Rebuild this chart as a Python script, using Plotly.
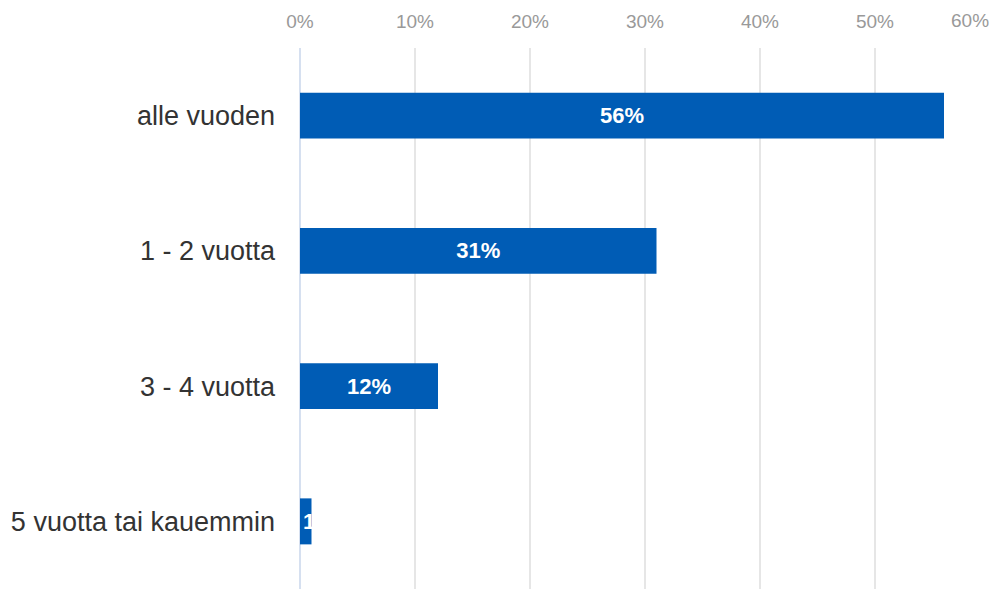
import plotly.graph_objects as go

# Survey answer categories (top to bottom) and share of respondents
categories = ["alle vuoden", "1 - 2 vuotta", "3 - 4 vuotta", "5 vuotta tai kauemmin"]
shares = [56, 31, 12, 1]
x_ticks = [0, 10, 20, 30, 40, 50, 60]
x_tick_labels = ["0%", "10%", "20%", "30%", "40%", "50%", "60%"]

bar_color = "#005cb5"
font_family = "Liberation Sans, Arial, sans-serif"
tick_color = "#999999"
tick_size = 19
label_font = dict(family=font_family, size=22, color="white", weight="bold")

# the last tick sits on the right edge, so its label is drawn separately, right-aligned
axis_ticktext = x_tick_labels[:-1] + [""]

# wide bars get a centred label; very short bars get theirs anchored at the bar base
wide = [v >= 5 for v in shares]

fig = go.Figure()
for is_wide in (True, False):
    idx = [i for i, w in enumerate(wide) if w == is_wide]
    if not idx:
        continue
    fig.add_trace(
        go.Bar(
            x=[shares[i] for i in idx],
            y=[categories[i] for i in idx],
            orientation="h",
            width=0.34,
            marker=dict(color=bar_color, line=dict(width=0)),
            text=[f"{shares[i]}%" for i in idx],
            textposition="inside",
            insidetextanchor="middle" if is_wide else "start",
            textangle=0,
            constraintext="none",
            textfont=label_font,
            hoverinfo="skip",
        )
    )

fig.add_annotation(
    x=x_ticks[-1],
    xref="x",
    y=1,
    yref="paper",
    yanchor="bottom",
    xanchor="right",
    yshift=15,
    xshift=1,
    text=x_tick_labels[-1],
    showarrow=False,
    font=dict(family=font_family, size=tick_size, color=tick_color),
)

fig.update_layout(
    width=992,
    height=589,
    margin=dict(l=300, r=2, t=48, b=0),
    paper_bgcolor="white",
    plot_bgcolor="white",
    showlegend=False,
    barmode="overlay",
    font=dict(family=font_family),
    xaxis=dict(
        range=[0, 60],
        side="top",
        tickvals=x_ticks,
        ticktext=axis_ticktext,
        tickfont=dict(size=tick_size, color=tick_color),
        ticklabelstandoff=15,
        showgrid=True,
        gridcolor="#e6e6e6",
        gridwidth=2,
        zeroline=True,
        zerolinecolor="#d6e0f0",
        zerolinewidth=2,
        showline=False,
        ticks="",
        fixedrange=True,
    ),
    yaxis=dict(
        categoryorder="array",
        categoryarray=categories[::-1],
        tickfont=dict(size=27, color="#333333"),
        ticklabelstandoff=24,
        showgrid=False,
        zeroline=False,
        showline=False,
        ticks="",
        fixedrange=True,
    ),
)

fig.write_html("out.html")
